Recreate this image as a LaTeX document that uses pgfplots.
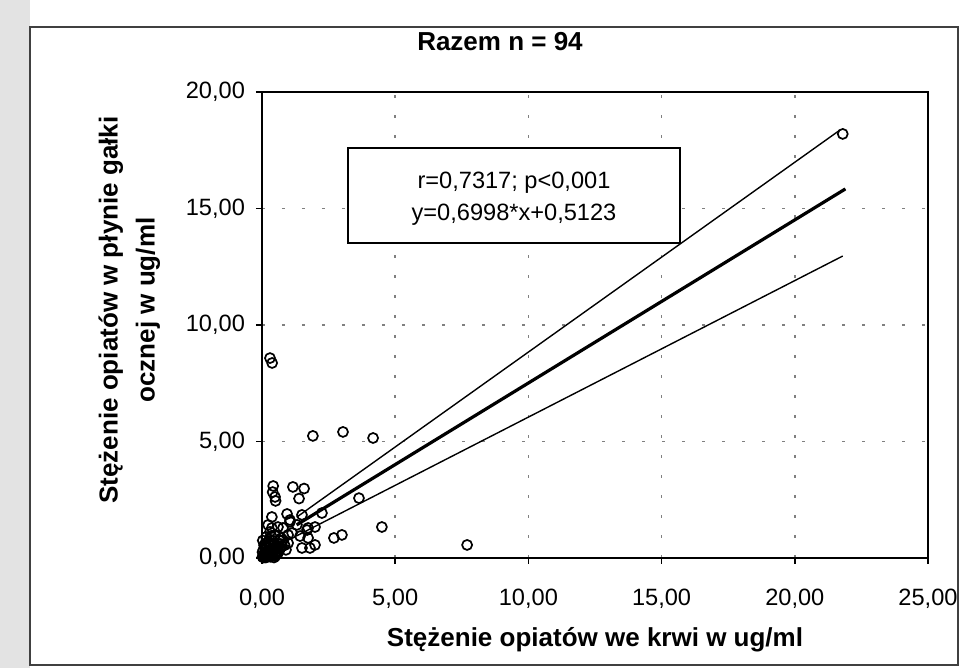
\documentclass[border=0pt]{standalone}
\usepackage{fontspec}
\setmainfont{Liberation Sans}
\usepackage{pgfplots}
\pgfplotsset{compat=1.18}

\pgfplotstableread{
x y
21.8 18.2
0.30 8.58
0.38 8.37
1.91 5.24
3.04 5.41
4.17 5.15
7.70 0.56
4.50 1.33
3.64 2.57
2.70 0.86
3.00 0.99
0.42 3.09
0.40 2.83
0.49 2.62
0.51 2.45
1.16 3.05
1.58 2.98
1.39 2.55
2.25 1.93
0.37 1.76
0.94 1.89
1.50 1.85
1.99 1.33
1.73 1.29
1.43 0.94
1.50 0.43
1.80 0.43
1.99 0.56
0.37 1.29
1.05 1.55
1.31 1.42
0.98 0.99
0.79 1.29
0.49 0.99
0.98 0.64
0.60 0.21
1.69 1.20
1.73 0.86
0.60 1.33
0.30 1.12
0.79 0.77
0.23 0.69
0.11 0.47
1.13 1.07
0.23 1.42
1.05 1.63
0.02 0.05
0.05 0.12
0.08 0.03
0.10 0.20
0.12 0.08
0.15 0.15
0.18 0.30
0.20 0.05
0.22 0.22
0.25 0.10
0.28 0.35
0.30 0.18
0.32 0.05
0.35 0.28
0.38 0.42
0.40 0.12
0.42 0.25
0.45 0.55
0.48 0.35
0.50 0.08
0.52 0.20
0.55 0.45
0.58 0.62
0.60 0.30
0.62 0.50
0.65 0.75
0.68 0.40
0.70 0.60
0.72 0.85
0.75 0.50
0.05 0.35
0.08 0.55
0.03 0.75
0.12 0.62
0.15 0.90
0.20 0.48
0.25 0.60
0.02 0.25
0.06 0.02
0.14 0.02
0.28 0.80
0.33 0.65
0.40 0.75
0.45 0.02
0.55 0.15
0.85 0.55
0.90 0.35
0.35 0.95
}\pomiary

\begin{document}
\begin{tikzpicture}
\useasboundingbox (0,0) rectangle (480pt,334pt);
\fill[white] (0,0) rectangle (480pt,334pt);
\fill[gray!22] (0,0) rectangle (15pt,334pt);
\draw[black!75, line width=1pt] (15pt,1.5pt) rectangle (479pt,320.5pt);
\node[font=\fontsize{13}{15}\selectfont\bfseries] at (250pt,313pt) {Razem n = 94};
\begin{axis}[
  at={(131pt,55pt)}, anchor=south west,
  scale only axis, width=333pt, height=233pt,
  xmin=0, xmax=25, ymin=0, ymax=20,
  xtick={0,5,...,25}, ytick={0,5,...,20},
  scaled ticks=false,
  axis line style={line width=1pt},
  tick align=outside, tick pos=left, major tick length=3pt,
  tick style={black, line width=0.8pt},
  grid=major, grid style={black!50, line width=0.8pt, dash pattern=on 1.5pt off 8.5pt},
  tick label style={font=\fontsize{11.8}{14}\selectfont,
    /pgf/number format/fixed, /pgf/number format/fixed zerofill,
    /pgf/number format/precision=2, /pgf/number format/use comma,
    /pgf/number format/assume math mode=true},
  xticklabel style={yshift=-9pt},
  yticklabel style={xshift=-2pt},
  xlabel={Stężenie opiatów we krwi w ug/ml},
  xlabel style={at={(rel axis cs:0.5,-0.176)}, anchor=center, font=\fontsize{13}{15}\selectfont\bfseries},
  ylabel={Stężenie opiatów w płynie gałki\\ocznej w ug/ml},
  ylabel style={at={(rel axis cs:-0.199,0.532)}, anchor=center, align=center, rotate=0,
    font=\fontsize{13}{18.5}\selectfont\bfseries},
]
\addplot[only marks, mark=o, mark size=2.5pt, black, mark options={line width=0.85pt}] table[x=x,y=y] {\pomiary};
\addplot[black, line width=0.7pt] coordinates {(1.30,1.75) (21.70,18.37)};
\addplot[black, line width=1.6pt] coordinates {(1.30,1.42) (21.90,15.84)};
\addplot[black, line width=0.7pt] coordinates {(1.30,0.95) (21.80,12.96)};
\draw[line width=0.9pt, fill=white] (axis cs:3.23,13.52) rectangle (axis cs:15.69,17.6);
\node[align=center, font=\fontsize{11.8}{16}\selectfont] at (axis cs:9.46,15.42)
  {r=0,7317; p<0,001\\y=0,6998*x+0,5123};
\end{axis}
\end{tikzpicture}
\end{document}
